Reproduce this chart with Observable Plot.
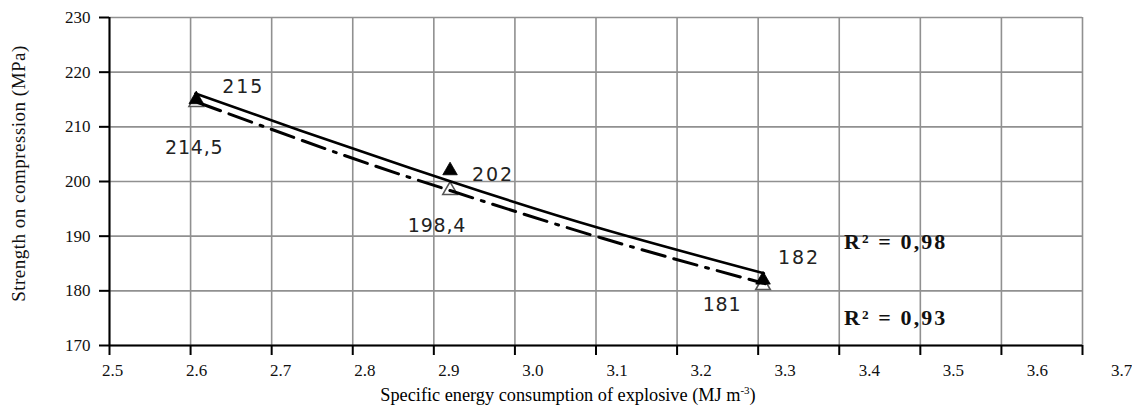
<!DOCTYPE html>
<html><head><meta charset="utf-8">
<script src="https://cdn.jsdelivr.net/npm/d3@7"></script>
<script src="https://cdn.jsdelivr.net/npm/@observablehq/plot@0.6"></script>
<style>
body{margin:0;background:#fff;}
#wrap{position:relative;width:1132px;height:413px;overflow:hidden;background:#fff;}
#wrap > *{position:absolute;left:0;}
#xtitle{top:386px;width:1132px;padding-left:4px;box-sizing:border-box;text-align:center;font-family:"Liberation Serif",serif;font-size:18.3px;line-height:1;white-space:nowrap;color:#000;}
#xtitle sup{font-size:11px;vertical-align:baseline;position:relative;top:-7px;}
</style></head><body><div id="wrap"></div>
<script>
// ---- data ----
const xTicks = [2.5, 2.6, 2.7, 2.8, 2.9, 3.0, 3.1, 3.2, 3.3, 3.4, 3.5, 3.6, 3.7];
const xTickLabels = ["2.5","2.6","2.7","2.8","2.9","3.0","3.1","3.2","3.3","3.4","3.5","3.6","3.7"];
const yTicks = [170, 180, 190, 200, 210, 220, 230];

// series A (filled triangles, solid trend)
const energyA = [2.607, 2.92, 3.306];
const strengthA = [215, 202, 182];
const labelsA = ["215", "202", "182"];
// series B (open triangles, dash-dot trend)
const energyB = [2.607, 2.92, 3.306];
const strengthB = [214.5, 198.4, 181];
const labelsB = ["214,5", "198,4", "181"];

// trend curves as drawn
const trendAx = [2.606, 2.736, 2.921, 3.106, 3.307];
const trendAy = [216.1, 209.3, 200.0, 191.4, 183.2];
const trendBx = [2.609, 2.789, 2.921, 3.106, 3.309];
const trendBy = [214.45, 204.8, 198.3, 189.7, 181.3];

const r2Labels = ["R\u00B2 = 0,98", "R\u00B2 = 0,93"];
const yTitle = "Strength on compression (MPa)";

// ---- main chart ----
const wrap = document.getElementById("wrap");
const serif = "Liberation Serif, Times New Roman, serif";
const sans = "DejaVu Sans, sans-serif";
const idx = d3.range(3);

const offA = [[47, -13], [43, 4], [36, -22]];
const offB = [[-2, 46], [-13, 36], [-41, 20]];

const main = Plot.plot({
  width: 1132,
  height: 358,
  marginTop: 17,
  marginBottom: 13,
  marginLeft: 109,
  marginRight: 50,
  style: {fontFamily: serif, fontSize: "17px", background: "#fff", color: "#000", overflow: "visible"},
  x: {domain: [2.5, 3.7]},
  y: {domain: [170, 230]},
  marks: [
    Plot.gridX(xTicks, {stroke: "#909090", strokeOpacity: 1, strokeWidth: 1.6}),
    Plot.gridY(yTicks, {stroke: "#909090", strokeOpacity: 1, strokeWidth: 1.6}),
    Plot.axisX(xTicks, {tickSize: 10, text: null, label: null, stroke: "#000", strokeWidth: 2}),
    Plot.axisY(yTicks, {tickSize: 10, tickPadding: 9, fontSize: 17, fill: "#111", label: null, stroke: "#000", strokeWidth: 2}),
    Plot.ruleY([170], {stroke: "#000", strokeWidth: 2}),
    Plot.ruleX([2.5], {stroke: "#000", strokeWidth: 2}),
    // markers
    Plot.dot(idx, {x: i => energyB[i], y: i => strengthB[i], symbol: "triangle", r: 5.4, fill: "#fff", stroke: "#555", strokeWidth: 1.6}),
    Plot.dot(idx, {x: i => energyA[i], y: i => strengthA[i], symbol: "triangle", r: 5.4, fill: "#000", stroke: "#000", strokeWidth: 0.8}),
    // trend lines
    Plot.line(d3.range(trendBx.length), {x: i => trendBx[i], y: i => trendBy[i], curve: "natural", stroke: "#000", strokeWidth: 3, strokeDasharray: "24,9,24,9,3,9"}),
    Plot.line(d3.range(trendAx.length), {x: i => trendAx[i], y: i => trendAy[i], curve: "natural", stroke: "#000", strokeWidth: 2.6}),
    // value labels
    ...idx.map(i => Plot.text([i], {x: j => energyA[j], y: j => strengthA[j], text: j => labelsA[j], dx: offA[i][0], dy: offA[i][1], fontFamily: sans, fontSize: 19, fill: "#222"})),
    ...idx.map(i => Plot.text([i], {x: j => energyB[j], y: j => strengthB[j], text: j => labelsB[j], dx: offB[i][0], dy: offB[i][1], fontFamily: sans, fontSize: 19, fill: "#222"})),
    // R² labels next to series ends
    Plot.text([2], {x: j => energyA[j], y: j => strengthA[j], text: () => r2Labels[0], dx: 81, dy: -38, textAnchor: "start", fontFamily: serif, fontWeight: "bold", fontSize: 22, fill: "#111"}),
    Plot.text([2], {x: j => energyB[j], y: j => strengthB[j], text: () => r2Labels[1], dx: 81, dy: 33, textAnchor: "start", fontFamily: serif, fontWeight: "bold", fontSize: 22, fill: "#111"}),
    // y title
    Plot.text([yTitle], {frameAnchor: "left", textAnchor: "middle", text: d => d, rotate: -90, dx: -91, dy: -8, fontFamily: serif, fontSize: 19, fill: "#111"})
  ]
});
main.style.top = "0px";
wrap.appendChild(main);

// ---- tick label strip (labels as printed in the reference) ----
const tickStrip = Plot.plot({
  width: 1132,
  height: 24,
  marginTop: 0,
  marginBottom: 22,
  marginLeft: 112,
  marginRight: 11,
  style: {fontFamily: serif, fontSize: "17px", background: "transparent", color: "#000", overflow: "visible"},
  x: {domain: [2.5, 3.7]},
  marks: [
    Plot.axisX(xTicks, {tickSize: 0, tickPadding: 3, tickFormat: (d, i) => xTickLabels[i], fontSize: 17, fill: "#111", label: null})
  ]
});
tickStrip.style.top = "358px";
wrap.appendChild(tickStrip);

// letter spacing as in the reference typography
const spacing = new Map([
  ...labelsA.map(t => [t, "2px"]),
  ...labelsB.map(t => [t, "0.8px"]),
  ...r2Labels.map(t => [t, "2.1px"]),
  [yTitle, "0.5px"]
]);
for (const t of main.querySelectorAll("text")) {
  const s = spacing.get(t.textContent);
  if (s) t.style.letterSpacing = s;
}

const xt = document.createElement("div");
xt.id = "xtitle";
xt.innerHTML = "Specific energy consumption of explosive (MJ m<sup>-3</sup>)";
wrap.appendChild(xt);
</script>
</body></html>
